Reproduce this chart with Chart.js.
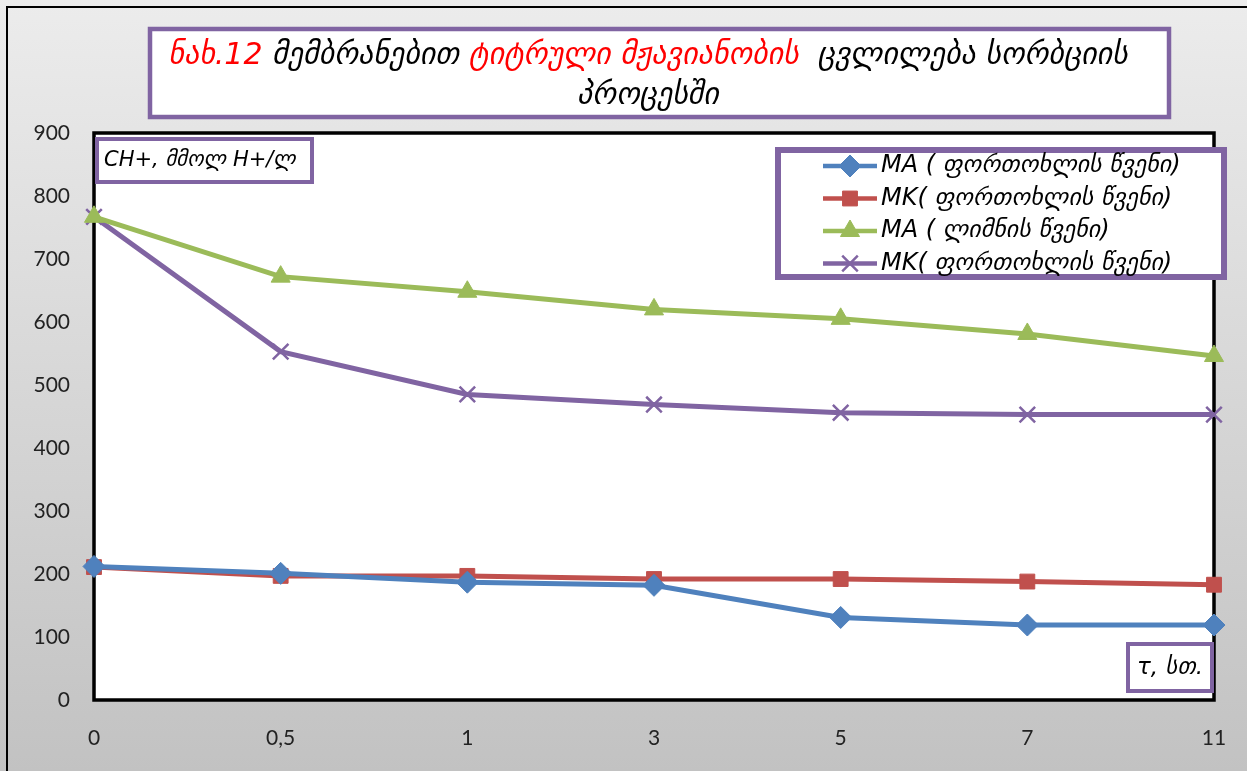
<!DOCTYPE html>
<html>
<head>
<meta charset="utf-8">
<script src="https://cdn.jsdelivr.net/npm/chart.js@4.4.1/dist/chart.umd.min.js"></script>
<style>
  body { margin: 0; background: #d0d0d0; }
  canvas { display: block; }
</style>
</head>
<body>
<canvas id="grafiki" width="1247" height="771"></canvas>
<script>
var saatebi = ['0', '0,5', '1', '3', '5', '7', '11'];
var maForToxali = [212, 201, 187, 182, 131, 119, 119];
var mkForToxali = [211, 197, 197, 192, 192, 188, 183];
var maLimoni = [767, 672, 648, 620, 605, 581, 546];
var mkForToxali2 = [767, 553, 485, 469, 456, 453, 453];
var yTickebi = [0, 100, 200, 300, 400, 500, 600, 700, 800, 900];

var saxelebi = ['MA ( ფორთოხლის წვენი)', 'MK( ფორთოხლის წვენი)', 'MA ( ლიმნის წვენი)', 'MK( ფორთოხლის წვენი)'];
var satauri1 = [
  ['ნახ.12 ', '#ff0000'],
  ['მემბრანებით ', '#000000'],
  ['ტიტრული მჟავიანობის', '#ff0000'],
  ['  ცვლილება სორბციის', '#000000']
];
var satauri2 = 'პროცესში';

var GEO = '"DejaVu Sans", "Noto Sans", sans-serif';
var IASAMNISFERI = '#8064a2';

function yuti(ctx, x, y, w, h, sisqe) {
  ctx.save();
  ctx.fillStyle = '#ffffff';
  ctx.fillRect(x, y, w, h);
  ctx.strokeStyle = IASAMNISFERI;
  ctx.lineWidth = sisqe;
  ctx.strokeRect(x, y, w, h);
  ctx.restore();
}

var fonisPlugin = {
  id: 'foni',
  beforeDraw: function (chart) {
    var ctx = chart.ctx;
    var ca = chart.chartArea;
    ctx.save();
    var gr = ctx.createLinearGradient(0, 0, 0, chart.height);
    gr.addColorStop(0, '#ececec');
    gr.addColorStop(1, '#c2c2c2');
    ctx.fillStyle = gr;
    ctx.fillRect(0, 0, chart.width, chart.height);
    ctx.strokeStyle = '#000';
    ctx.lineWidth = 2;
    ctx.strokeRect(7, 7, chart.width + 20, chart.height + 20);
    ctx.fillStyle = '#ffffff';
    ctx.fillRect(ca.left, ca.top, ca.right - ca.left, ca.bottom - ca.top);
    ctx.restore();
  },
  beforeDatasetsDraw: function (chart) {
    var ctx = chart.ctx;
    var ca = chart.chartArea;
    ctx.save();
    ctx.strokeStyle = '#000';
    ctx.lineWidth = 3.5;
    ctx.strokeRect(ca.left, ca.top, ca.right - ca.left, ca.bottom - ca.top);

    // y gherdzis wartsera
    yuti(ctx, 97, 139, 215, 43, 4);
    ctx.fillStyle = '#000';
    ctx.font = 'italic 21px ' + GEO;
    ctx.textBaseline = 'middle';
    ctx.textAlign = 'left';
    ctx.fillText('CH+, მმოლ H+/ლ', 104, 161, 203);

    // x gherdzis wartsera
    yuti(ctx, 1128, 644, 84, 47, 4);
    ctx.fillStyle = '#000';
    ctx.font = 'italic 23px ' + GEO;
    ctx.textAlign = 'center';
    ctx.fillText('τ, სთ.', 1170, 668, 76);
    ctx.restore();
  },
  afterDraw: function (chart) {
    var ctx = chart.ctx;
    ctx.save();

    // satauri
    yuti(ctx, 150, 29, 1019, 88, 4.5);
    ctx.font = 'italic 30px ' + GEO;
    ctx.textBaseline = 'middle';
    ctx.textAlign = 'left';
    var sigane = 0;
    satauri1.forEach(function (n) { sigane += ctx.measureText(n[0]).width; });
    var x = 648 - sigane / 2;
    satauri1.forEach(function (n) {
      ctx.fillStyle = n[1];
      ctx.fillText(n[0], x, 56);
      x += ctx.measureText(n[0]).width;
    });
    ctx.fillStyle = '#000';
    ctx.textAlign = 'center';
    ctx.fillText(satauri2, 648, 96);

    // legenda
    yuti(ctx, 778, 150, 446, 127, 6);
    ctx.font = 'italic 24px ' + GEO;
    ctx.textAlign = 'left';
    chart.data.datasets.forEach(function (ds, i) {
      var y = 166 + i * 32.5;
      ctx.strokeStyle = ds.borderColor;
      ctx.lineWidth = 4.5;
      ctx.beginPath();
      ctx.moveTo(823, y);
      ctx.lineTo(877, y);
      ctx.stroke();
      ctx.fillStyle = ds.borderColor;
      ctx.lineWidth = ds.pointBorderWidth;
      Chart.helpers.drawPoint(ctx, {
        pointStyle: ds.pointStyle,
        radius: ds.pointRadius,
        borderWidth: ds.pointBorderWidth
      }, 850, y);
      ctx.fillStyle = '#000';
      ctx.fillText(ds.label, 881, y, 335);
    });
    ctx.restore();
  }
};

function seria(label, data, feri, stili, radiusi) {
  return {
    label: label,
    data: data,
    borderColor: feri,
    backgroundColor: feri,
    pointBackgroundColor: feri,
    pointBorderColor: feri,
    pointStyle: stili,
    pointRadius: radiusi,
    pointHoverRadius: radiusi,
    pointBorderWidth: stili === 'crossRot' ? 2.5 : 1,
    borderWidth: 5,
    tension: 0,
    fill: false
  };
}

var ctx = document.getElementById('grafiki').getContext('2d');
var grafiki = new Chart(ctx, {
  type: 'line',
  data: {
    labels: saatebi,
    datasets: [
      seria(saxelebi[0], maForToxali, '#4f81bd', 'rectRot', 11),
      seria(saxelebi[1], mkForToxali, '#c0504d', 'rect', 10.5),
      seria(saxelebi[2], maLimoni, '#9bbb59', 'triangle', 11),
      seria(saxelebi[3], mkForToxali2, '#8064a2', 'crossRot', 11)
    ]
  },
  options: {
    responsive: false,
    animation: false,
    events: [],
    layout: { padding: { left: 0, top: 133, right: 33, bottom: 0 } },
    plugins: {
      legend: { display: false },
      title: { display: false },
      tooltip: { enabled: false }
    },
    scales: {
      x: {
        offset: false,
        grid: { display: false, drawTicks: false },
        border: { display: false },
        ticks: {
          color: '#222',
          padding: 26,
          maxRotation: 0,
          font: { family: 'Lato, "Liberation Sans", sans-serif', size: 21 }
        },
        afterFit: function (s) {
          s.height = 71;
          s.paddingLeft = 0;
          s.paddingRight = 0;
        }
      },
      y: {
        min: 0,
        max: 900,
        grid: { display: false, drawTicks: false },
        border: { display: false },
        afterBuildTicks: function (s) {
          s.ticks = yTickebi.map(function (v) { return { value: v }; });
        },
        ticks: {
          color: '#222',
          padding: 24,
          font: { family: 'Lato, "Liberation Sans", sans-serif', size: 21 }
        },
        afterFit: function (s) {
          s.width = 94;
          s.paddingTop = 0;
          s.paddingBottom = 0;
        }
      }
    }
  },
  plugins: [fonisPlugin]
});
</script>
</body>
</html>
